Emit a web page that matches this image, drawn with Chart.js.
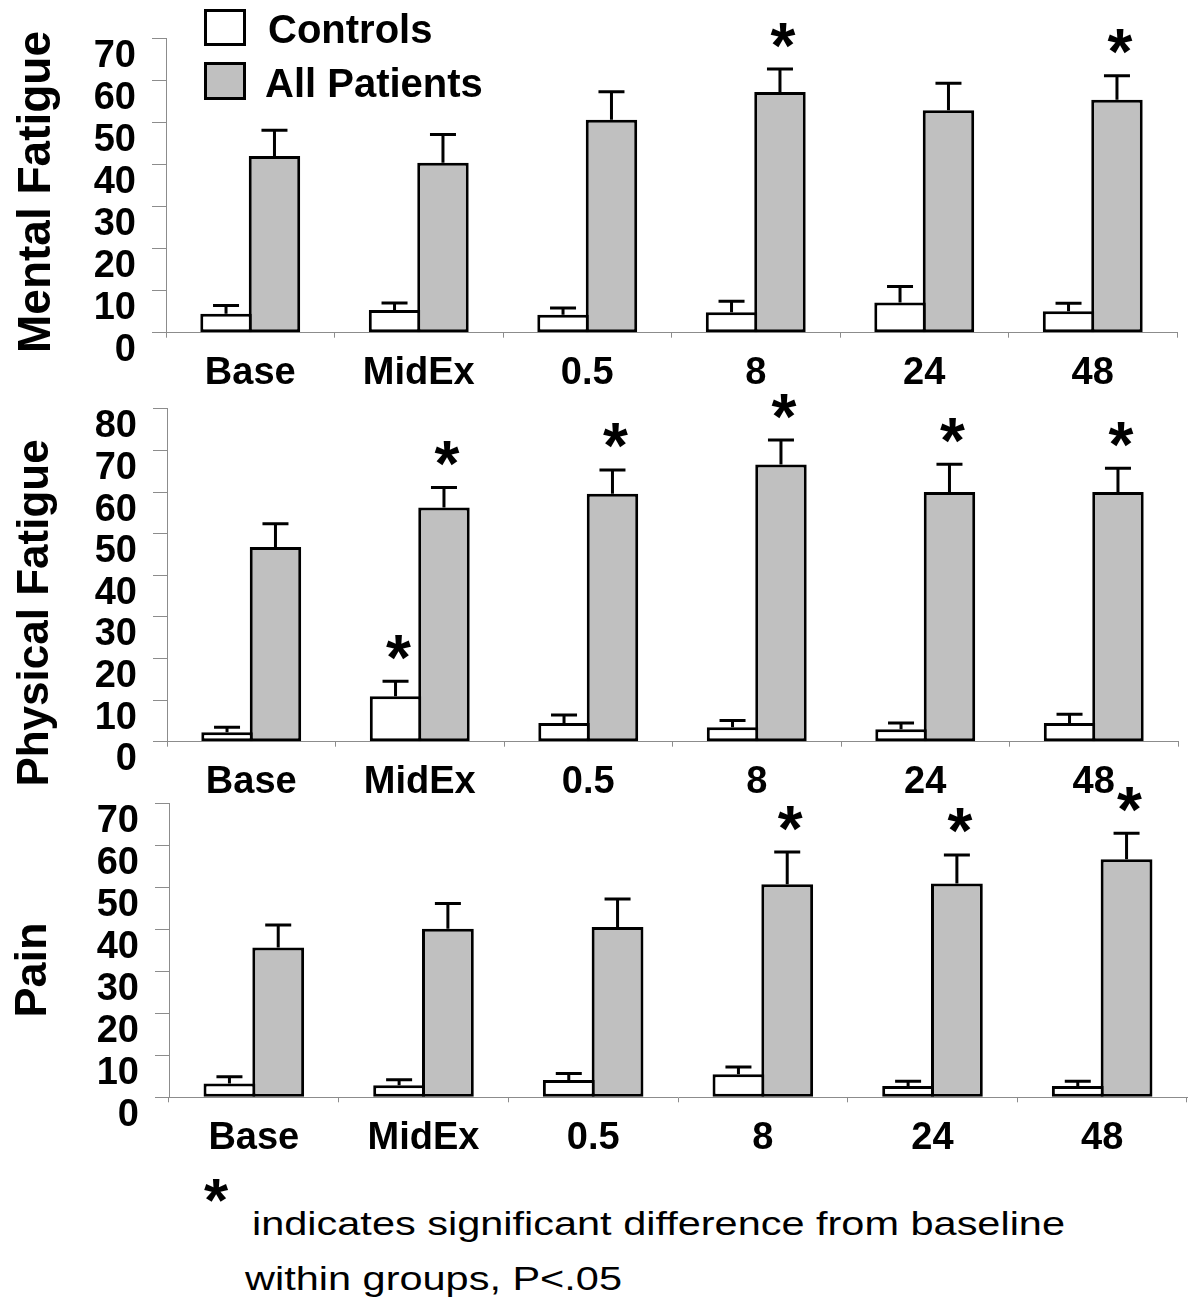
<!DOCTYPE html>
<html>
<head>
<meta charset="utf-8">
<script src="https://cdn.jsdelivr.net/npm/chart.js@4.4.0/dist/chart.umd.min.js"></script>
<style>
  html, body { margin: 0; padding: 0; background: #ffffff; }
  #page { position: relative; width: 1189px; height: 1306px; overflow: hidden; background: #ffffff; }
  .panel { position: absolute; left: 0; width: 1189px; }
  .foot { position: absolute; font-family: "Liberation Sans", Arial, Helvetica, sans-serif; color: #000; white-space: nowrap; transform-origin: 0 0; line-height: 1; }
</style>
</head>
<body>
<div id="page">
  <div class="panel" id="p1"><canvas id="c1"></canvas></div>
  <div class="panel" id="p2"><canvas id="c2"></canvas></div>
  <div class="panel" id="p3"><canvas id="c3"></canvas></div>
  <div class="foot" id="fstar" style="font-weight:bold;font-size:62px;left:204px;top:1169px;">*</div>
  <div class="foot" id="fline1" style="font-size:33px;left:252px;top:1207px;"></div>
  <div class="foot" id="fline2" style="font-size:33px;left:245px;top:1262px;"></div>
</div>
<script>
// ---------------- data ----------------
const categories = ['Base', 'MidEx', '0.5', '8', '24', '48'];
const seriesLabels = ['Controls', 'All Patients'];

// Mental Fatigue
const mentalControls      = [4.5, 5.4, 4.3, 4.9, 7.2, 5.1];
const mentalControlsErr   = [2.0, 1.7, 1.6, 2.6, 3.8, 1.9];
const mentalPatients      = [42.1, 40.5, 50.7, 57.3, 53.0, 55.5];
const mentalPatientsErr   = [6.1, 6.7, 6.7, 5.5, 6.4, 5.7];
const mentalControlsSig   = [false, false, false, false, false, false];
const mentalPatientsSig   = [false, false, false, true, false, true];

// Physical Fatigue
const physicalControls    = [2.3, 10.9, 4.5, 3.5, 3.0, 4.5];
const physicalControlsErr = [1.2, 3.6, 1.9, 1.6, 1.5, 2.1];
const physicalPatients    = [46.8, 56.3, 59.6, 66.6, 60.0, 60.0];
const physicalPatientsErr = [5.6, 4.8, 5.7, 5.9, 6.7, 5.7];
const physicalControlsSig = [false, true, false, false, false, false];
const physicalPatientsSig = [false, true, true, true, true, true];

// Pain
const painControls        = [3.3, 2.9, 4.1, 5.5, 2.7, 2.7];
const painControlsErr     = [1.6, 1.3, 1.6, 1.7, 1.1, 1.1];
const painPatients        = [35.7, 40.2, 40.6, 50.8, 51.0, 56.8];
const painPatientsErr     = [5.4, 6.0, 6.7, 7.7, 6.8, 6.2];
const painControlsSig     = [false, false, false, false, false, false];
const painPatientsSig     = [false, false, false, true, true, true];

// axis ranges and labels
const yTickStep = 10;
const mentalYMax = 70;
const physicalYMax = 80;
const painYMax = 70;
const panelTitles = ['Mental Fatigue', 'Physical Fatigue', 'Pain'];
const footnoteText = ['indicates significant difference from baseline', 'within groups, P<.05'];

// ---------------- styling ----------------
const FONT = '"Liberation Sans", Arial, Helvetica, sans-serif';
const CONTROL_FILL = '#ffffff';
const PATIENT_FILL = '#c0c0c0';
const AXIS_GRAY = '#8c8c8c';

// ---------------- plugins ----------------
const errorBarPlugin = {
  id: 'errorBars',
  afterDatasetsDraw(chart) {
    const ctx = chart.ctx;
    const yScale = chart.scales.y;
    chart.data.datasets.forEach((ds, i) => {
      const meta = chart.getDatasetMeta(i);
      meta.data.forEach((bar, j) => {
        const v = ds.data[j];
        const e = ds.errors[j];
        const yTop = yScale.getPixelForValue(v + e);
        ctx.save();
        ctx.strokeStyle = '#000';
        ctx.lineWidth = 3;
        ctx.beginPath();
        ctx.moveTo(bar.x, bar.y);
        ctx.lineTo(bar.x, yTop);
        ctx.moveTo(bar.x - 13, yTop);
        ctx.lineTo(bar.x + 13, yTop);
        ctx.stroke();
        if (ds.sig[j]) {
          ctx.fillStyle = '#000';
          ctx.font = 'bold 64px ' + FONT;
          ctx.textAlign = 'center';
          ctx.textBaseline = 'alphabetic';
          const m = ctx.measureText('*');
          const cy = yTop - 34;
          const base = cy + (m.actualBoundingBoxAscent - m.actualBoundingBoxDescent) / 2;
          ctx.fillText('*', bar.x + 3, base);
        }
        ctx.restore();
      });
    });
  }
};

const panelTitlePlugin = {
  id: 'panelTitle',
  afterDraw(chart, args, opts) {
    if (!opts || !opts.text) return;
    const ctx = chart.ctx;
    ctx.save();
    ctx.translate(opts.x, opts.cy);
    ctx.rotate(-Math.PI / 2);
    ctx.font = 'bold ' + opts.size + 'px ' + FONT;
    ctx.fillStyle = '#000';
    ctx.textAlign = 'center';
    ctx.textBaseline = 'alphabetic';
    ctx.fillText(opts.text, 0, 0);
    ctx.restore();
  }
};

const boxLegendPlugin = {
  id: 'boxLegend',
  afterDraw(chart, args, opts) {
    if (!opts || !opts.show) return;
    const ctx = chart.ctx;
    ctx.save();
    chart.data.datasets.forEach((ds, i) => {
      const it = opts.items[i];
      ctx.fillStyle = ds.backgroundColor;
      ctx.fillRect(it.bx, it.by, it.bw, it.bh);
      ctx.strokeStyle = '#000';
      ctx.lineWidth = 3;
      ctx.strokeRect(it.bx + 1.5, it.by + 1.5, it.bw - 3, it.bh - 3);
      ctx.fillStyle = '#000';
      ctx.font = 'bold ' + opts.size + 'px ' + FONT;
      ctx.textAlign = 'left';
      ctx.textBaseline = 'alphabetic';
      ctx.fillText(ds.label, it.tx, it.ty);
    });
    ctx.restore();
  }
};

// ---------------- panels ----------------
const panels = [
  {
    canvas: 'c1', box: 'p1', top: 0, height: 405,
    area: { top: 36.5, bottom: 332.7, left: 166, right: 1177 },
    yMax: mentalYMax,
    controls: mentalControls, controlsErr: mentalControlsErr, controlsSig: mentalControlsSig,
    patients: mentalPatients, patientsErr: mentalPatientsErr, patientsSig: mentalPatientsSig,
    title: { text: panelTitles[0], x: 50, cy: 192, size: 46 },
    legend: true
  },
  {
    canvas: 'c2', box: 'p2', top: 370, height: 430,
    area: { top: 400.7, bottom: 741.7, left: 167, right: 1178 },
    yMax: physicalYMax,
    controls: physicalControls, controlsErr: physicalControlsErr, controlsSig: physicalControlsSig,
    patients: physicalPatients, patientsErr: physicalPatientsErr, patientsSig: physicalPatientsSig,
    title: { text: panelTitles[1], x: 48, cy: 613, size: 44 },
    legend: false
  },
  {
    canvas: 'c3', box: 'p3', top: 765, height: 400,
    area: { top: 800, bottom: 1097.3, left: 169, right: 1187 },
    yMax: painYMax,
    controls: painControls, controlsErr: painControlsErr, controlsSig: painControlsSig,
    patients: painPatients, patientsErr: painPatientsErr, patientsSig: painPatientsSig,
    title: { text: panelTitles[2], x: 46, cy: 970, size: 45 },
    legend: false
  }
];

panels.forEach(p => {
  const boxEl = document.getElementById(p.box);
  boxEl.style.top = p.top + 'px';
  boxEl.style.height = p.height + 'px';
  const xHeight = (p.top + p.height) - p.area.bottom;
  const yWidth = p.area.left;

  new Chart(document.getElementById(p.canvas), {
    type: 'bar',
    data: {
      labels: categories,
      datasets: [
        {
          label: seriesLabels[0],
          data: p.controls, errors: p.controlsErr, sig: p.controlsSig,
          backgroundColor: CONTROL_FILL, borderColor: '#000', borderWidth: 3, borderSkipped: false,
          categoryPercentage: 0.575, barPercentage: 1.062
        },
        {
          label: seriesLabels[1],
          data: p.patients, errors: p.patientsErr, sig: p.patientsSig,
          backgroundColor: PATIENT_FILL, borderColor: '#000', borderWidth: 3, borderSkipped: false,
          categoryPercentage: 0.575, barPercentage: 1.062
        }
      ]
    },
    options: {
      responsive: true,
      maintainAspectRatio: false,
      animation: false,
      devicePixelRatio: 1,
      layout: {
        padding: { top: p.area.top - p.top, bottom: 0, left: 0, right: 1189 - p.area.right }
      },
      scales: {
        x: {
          type: 'category',
          offset: true,
          grid: { display: true, drawOnChartArea: false, drawTicks: true, tickLength: 5, color: AXIS_GRAY, lineWidth: 1, offset: true },
          border: { display: true, color: AXIS_GRAY, width: 1 },
          ticks: {
            color: '#000', padding: 13, maxRotation: 0, autoSkip: false,
            font: { family: FONT, size: 38, weight: 'bold', lineHeight: 1.2 }
          },
          afterFit(scale) { scale.height = xHeight; }
        },
        y: {
          min: 0, max: p.yMax,
          grid: { display: true, drawOnChartArea: false, drawTicks: true, tickLength: 14, color: AXIS_GRAY, lineWidth: 1 },
          border: { display: true, color: AXIS_GRAY, width: 1 },
          ticks: {
            stepSize: yTickStep, color: '#000', padding: 16, labelOffset: 18, autoSkip: false,
            font: { family: FONT, size: 38, weight: 'bold', lineHeight: 1.2 }
          },
          afterFit(scale) { scale.width = yWidth; }
        }
      },
      plugins: {
        legend: { display: false },
        tooltip: { enabled: false },
        panelTitle: { text: p.title.text, x: p.title.x, cy: p.title.cy - p.top, size: p.title.size },
        boxLegend: {
          show: p.legend, size: 40,
          items: [
            { bx: 204, by: 9, bw: 42, bh: 37, tx: 268, ty: 43 },
            { bx: 204, by: 62, bw: 42, bh: 38, tx: 265, ty: 97 }
          ]
        }
      }
    },
    plugins: [errorBarPlugin, panelTitlePlugin, boxLegendPlugin]
  });
});

// footnote: text widened to the reference's measured line widths
function fitWidth(id, target) {
  const el = document.getElementById(id);
  const w = el.getBoundingClientRect().width;
  if (w > 0) el.style.transform = 'scaleX(' + (target / w) + ')';
}
document.getElementById('fline1').textContent = footnoteText[0];
document.getElementById('fline2').textContent = footnoteText[1];
fitWidth('fline1', 813);
fitWidth('fline2', 377);
</script>
</body>
</html>
